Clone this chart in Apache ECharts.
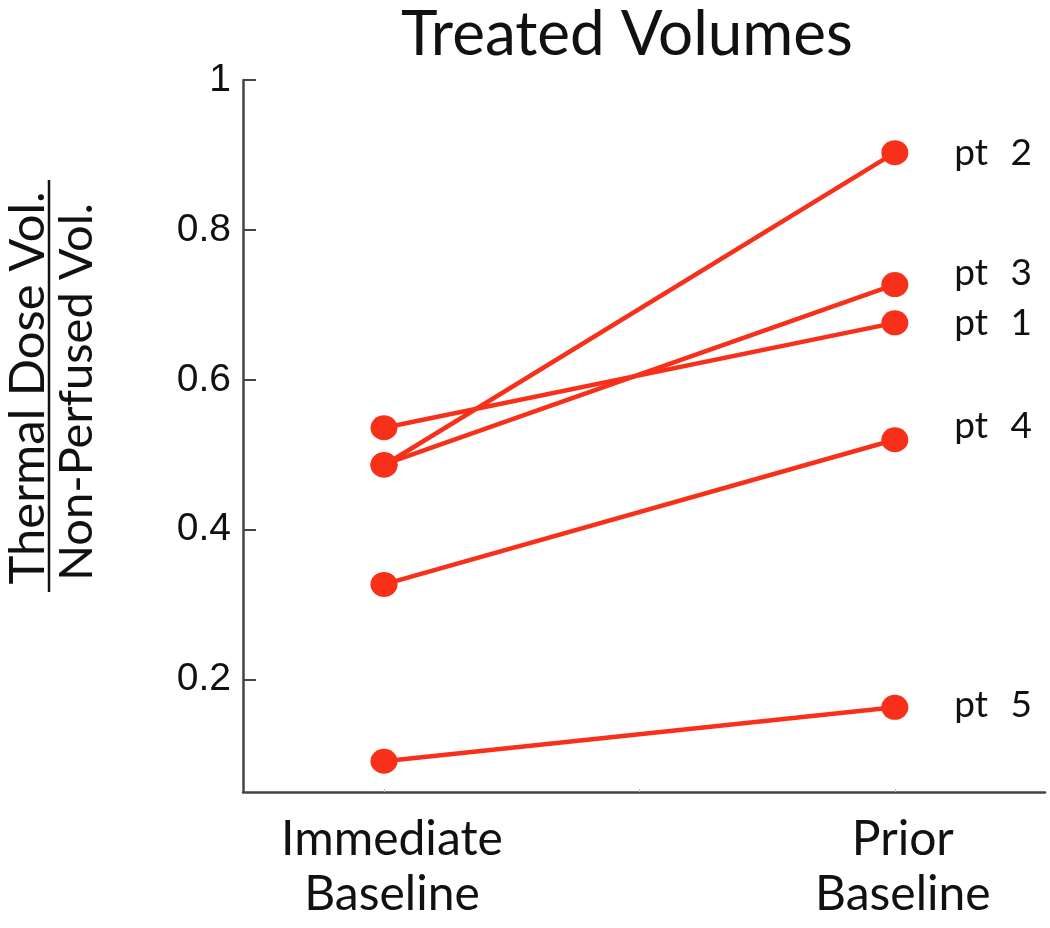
<!DOCTYPE html>
<html>
<head>
<meta charset="utf-8">
<script src="https://cdn.jsdelivr.net/npm/echarts@6/dist/echarts.min.js"></script>
<style>
  html, body { margin: 0; padding: 0; background: #fff; }
  #chart { width: 1050px; height: 928px; }
</style>
</head>
<body>
<div id="chart"></div>
<script>
// ---- data ----
const categories = ['Immediate\nBaseline', 'Prior\nBaseline'];
const categoryPos = [1, 2];
const patients = ['pt 1', 'pt 2', 'pt 3', 'pt 4', 'pt 5'];
const immediateBaseline = [0.536, 0.486, 0.487, 0.327, 0.091];
const priorBaseline = [0.676, 0.903, 0.727, 0.520, 0.163];
const yTicks = [0.2, 0.4, 0.6, 0.8, 1];
const xMinorTicks = [1, 1.5, 2];

const RED = '#f8301a';
const labelNudge = { 'pt 1': 0, 'pt 2': 0, 'pt 3': -12, 'pt 4': -14, 'pt 5': -2 };

const series = patients.map((name, i) => {
  const parts = name.split(' ');
  return {
    name: name,
    type: 'line',
    symbol: 'circle',
    symbolSize: [27, 25],
    lineStyle: { color: RED, width: 4.5 },
    itemStyle: { color: RED },
    z: 3,
    data: [
      { value: [categoryPos[0], immediateBaseline[i]] },
      {
        value: [categoryPos[1], priorBaseline[i]],
        label: {
          show: true,
          position: 'right',
          distance: 46,
          offset: [0, labelNudge[name]],
          formatter: '{a|' + parts[0] + ' }{b|' + parts[1] + '}',
          rich: {
            a: { fontFamily: 'Lato', fontSize: 37, color: '#111' },
            b: { fontFamily: 'Lato', fontSize: 37, color: '#111', padding: [0, 0, 0, 13] }
          }
        }
      }
    ]
  };
});

const chart = echarts.init(document.getElementById('chart'), null, { renderer: 'canvas' });
chart.setOption({
  animation: false,
  backgroundColor: '#ffffff',
  title: {
    text: 'Treated Volumes',
    left: 622,
    textAlign: 'center',
    top: -1,
    textStyle: { fontFamily: 'Lato', fontSize: 62, fontWeight: 'normal', color: '#111' }
  },
  grid: { left: 243, top: 80, right: 5, bottom: 136, containLabel: false },
  xAxis: {
    type: 'value',
    min: 0.724,
    max: 2.294,
    splitLine: { show: false },
    axisLine: { show: true, lineStyle: { color: '#444', width: 2.5 } },
    axisTick: {
      show: true, inside: true, length: 3,
      customValues: xMinorTicks,
      lineStyle: { color: '#bbb', width: 1 }
    },
    axisLabel: {
      customValues: categoryPos,
      formatter: v => categories[categoryPos.indexOf(Math.round(v))] || '',
      fontFamily: 'Lato',
      fontSize: 48,
      lineHeight: 55,
      color: '#111',
      margin: 20,
      padding: [0, 0, 0, 16]
    }
  },
  yAxis: {
    type: 'value',
    min: 0.05,
    max: 1,
    splitLine: { show: false },
    axisLine: { show: true, lineStyle: { color: '#444', width: 2.5 } },
    axisTick: {
      show: true, inside: true, length: 13,
      customValues: yTicks,
      lineStyle: { color: '#444', width: 2 }
    },
    axisLabel: {
      customValues: yTicks,
      formatter: v => (Math.abs(v - 1) < 1e-9 ? '1' : v.toFixed(1)),
      fontFamily: 'Liberation Sans',
      fontSize: 39,
      color: '#111',
      margin: 12
    }
  },
  graphic: [
    {
      type: 'text',
      x: 28, y: 388,
      rotation: Math.PI / 2,
      style: {
        text: 'Thermal Dose Vol.',
        font: '49px Lato',
        fill: '#111',
        align: 'center', verticalAlign: 'middle',
        textAlign: 'center', textVerticalAlign: 'middle'
      }
    },
    {
      type: 'line',
      shape: { x1: 49, y1: 180, x2: 49, y2: 592 },
      style: { stroke: '#111', lineWidth: 2.5 }
    },
    {
      type: 'text',
      x: 77, y: 392,
      rotation: Math.PI / 2,
      style: {
        text: 'Non-Perfused Vol.',
        font: '47px Lato',
        fill: '#111',
        align: 'center', verticalAlign: 'middle',
        textAlign: 'center', textVerticalAlign: 'middle'
      }
    }
  ],
  series: series
});
</script>
</body>
</html>
